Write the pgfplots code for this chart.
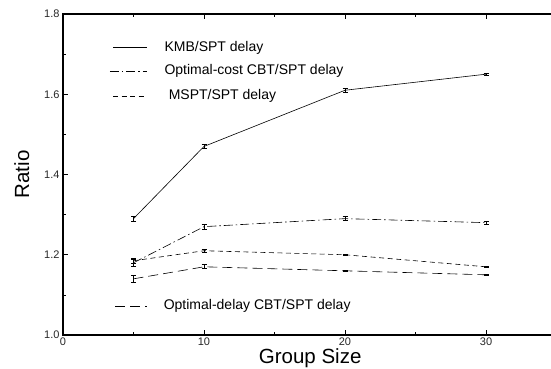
\documentclass[border=0pt]{standalone}
\usepackage{pgfplots}
\pgfplotsset{compat=1.18}
\usepackage{fontspec}
\setmainfont{Liberation Sans}

\pgfplotstableread{
x   y     e
5   1.290 0.007
10  1.470 0.005
20  1.610 0.004
30  1.650 0.003
}\kmb
\pgfplotstableread{
x   y     e
5   1.180 0.008
10  1.270 0.007
20  1.290 0.005
30  1.280 0.003
}\optcost
\pgfplotstableread{
x   y     e
5   1.185 0.006
10  1.210 0.003
20  1.200 0.002
30  1.170 0.002
}\mspt
\pgfplotstableread{
x   y     e
5   1.140 0.008
10  1.170 0.005
20  1.160 0.002
30  1.150 0.002
}\optdelay

\newcommand{\keyfont}{\fontsize{14}{16}\selectfont}

\begin{document}
\begin{tikzpicture}[x=1pt,y=1pt]
\begin{axis}[
  at={(63pt,33pt)}, anchor=south west,
  scale only axis, width=507.6pt, height=321pt,
  xmin=0, xmax=36, ymin=1.0, ymax=1.8,
  xtick={0,10,20,30}, minor xtick={5,15,25},
  xticklabels={0,10,20,30},
  ytick={1.0,1.2,1.4,1.6,1.8}, minor ytick={1.1,1.3,1.5,1.7},
  yticklabels={1.0,1.2,1.4,1.6,1.8},
  tick align=inside, major tick length=5pt, minor tick length=3pt,
  axis line style={line width=1.1pt},
  every tick/.style={black, line width=0.6pt},
  every tick label/.append style={font=\fontsize{11}{13}\selectfont, text=black!85},
  xticklabel style={yshift=1pt},
  xlabel={Group Size}, ylabel={Ratio},
  every axis label/.append style={font=\fontsize{20.5}{22}\selectfont},
  xlabel style={at={(rel axis cs:0.487,0)}, yshift=-10.5pt},
  ylabel style={yshift=8pt},
  error bars/error bar style={black, line width=0.6pt},
  error bars/error mark options={rotate=90, mark size=2.5pt, line width=0.6pt},
]
\addplot[black, line width=0.6pt, solid, error bars/.cd, y dir=both, y explicit]
  table[x=x, y=y, y error=e] {\kmb};
\addplot[black, line width=0.6pt, dash pattern=on 9pt off 3pt on 1.5pt off 3pt, error bars/.cd, y dir=both, y explicit]
  table[x=x, y=y, y error=e] {\optcost};
\addplot[black, line width=0.6pt, dash pattern=on 5pt off 3.5pt, error bars/.cd, y dir=both, y explicit]
  table[x=x, y=y, y error=e] {\mspt};
\addplot[black, line width=0.6pt, dash pattern=on 10pt off 5pt, error bars/.cd, y dir=both, y explicit]
  table[x=x, y=y, y error=e] {\optdelay};

% key entries placed inside the plot area
\draw[black, line width=0.6pt] (axis cs:3.55,1.716) -- (axis cs:5.96,1.716);
\node[anchor=west, font=\keyfont] at (axis cs:6.95,1.716) {KMB/SPT delay};
\draw[black, line width=0.6pt, dash pattern=on 9pt off 3pt on 1.5pt off 3pt] (axis cs:3.33,1.658) -- (axis cs:5.96,1.658);
\node[anchor=west, font=\keyfont] at (axis cs:6.95,1.658) {Optimal-cost CBT/SPT delay};
\draw[black, line width=0.6pt, dash pattern=on 5pt off 3.5pt] (axis cs:3.55,1.596) -- (axis cs:5.96,1.596);
\node[anchor=west, font=\keyfont] at (axis cs:7.25,1.596) {MSPT/SPT delay};
\draw[black, line width=0.6pt, dash pattern=on 10pt off 5pt] (axis cs:3.69,1.072) -- (axis cs:5.96,1.072);
\node[anchor=west, font=\keyfont] at (axis cs:6.9,1.072) {Optimal-delay CBT/SPT delay};
\end{axis}
\pgfresetboundingbox
\path[use as bounding box] (0,0) rectangle (551,368);
\end{tikzpicture}
\end{document}
